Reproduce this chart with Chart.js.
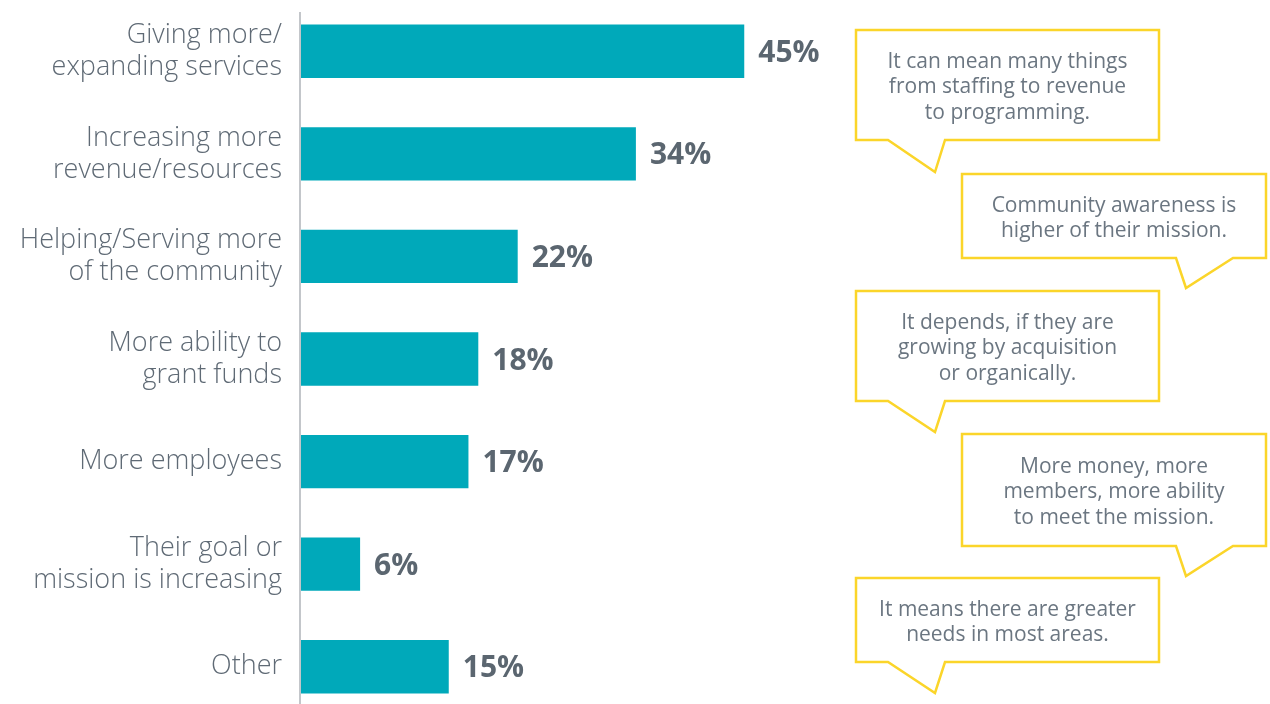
<!DOCTYPE html>
<html>
<head>
<meta charset="utf-8">
<script src="https://cdn.jsdelivr.net/npm/chart.js@4"></script>
<style>
  html, body { margin: 0; padding: 0; background: #fff; overflow: hidden; }
  #wrap { position: relative; width: 1270px; height: 704px; overflow: hidden; }
  #chartBox { position: absolute; left: 0; top: 0; width: 1270px; height: 718px; }
  #bubbles { position: absolute; left: 0; top: 0; width: 1270px; height: 704px; pointer-events: none; }
  .quote {
    position: absolute; display: flex; align-items: center; justify-content: center;
    text-align: center; font-family: "Open Sans", sans-serif; font-weight: 400;
    font-size: 21px; line-height: 25.5px; color: #6b7681; box-sizing: border-box;
  }
</style>
</head>
<body>
<div id="wrap">
  <div id="chartBox"><canvas id="growthChart" width="1270" height="718"></canvas></div>
  <svg id="bubbles" width="1270" height="704"></svg>
</div>
<script>
// categories and values
const categories = [
    ['Giving more/', 'expanding services'],
    ['Increasing more', 'revenue/resources'],
    ['Helping/Serving more', 'of the community'],
    ['More ability to', 'grant funds'],
    'More employees',
    ['Their goal or', 'mission is increasing'],
    'Other'
];
const shares = [45, 34, 22, 18, 17, 6, 15];

// quotes shown in the call-out boxes
const quotes = [
    ['It can mean many things', 'from staffing to revenue', 'to programming.'],
    ['Community awareness is', 'higher of their mission.'],
    ['It depends, if they are', 'growing by acquisition', 'or organically.'],
    ['More money, more', 'members, more ability', 'to meet the mission.'],
    ['It means there are greater', 'needs in most areas.']
];

const textGrey = '#5f6a75';

// bold % labels at the end of each bar + the vertical axis line
const valueLabels = {
    id: 'valueLabels',
    afterDatasetsDraw(chart) {
        const ctx = chart.ctx;
        const meta = chart.getDatasetMeta(0);
        ctx.save();
        ctx.font = 'bold 30px "Open Sans", sans-serif';
        ctx.fillStyle = '#5b6670';
        ctx.textAlign = 'left';
        ctx.textBaseline = 'middle';
        meta.data.forEach((bar, i) => {
            ctx.fillText(shares[i] + '%', bar.x + 14, bar.y + 2);
        });
        // axis line
        const a = chart.chartArea;
        ctx.strokeStyle = '#c3c6ca';
        ctx.lineWidth = 2;
        ctx.beginPath();
        ctx.moveTo(a.left - 1, 12);
        ctx.lineTo(a.left - 1, 704);
        ctx.stroke();
        ctx.restore();
    }
};

const ctx = document.getElementById('growthChart').getContext('2d');
new Chart(ctx, {
    type: 'bar',
    data: {
        labels: categories,
        datasets: [{
            data: shares,
            backgroundColor: '#00a9ba',
            barPercentage: 0.52,
            categoryPercentage: 1
        }]
    },
    options: {
        indexAxis: 'y',
        responsive: false,
        animation: false,
        layout: { padding: { top: 0, right: 378, bottom: 0, left: 0 } },
        plugins: { legend: { display: false }, tooltip: { enabled: false } },
        scales: {
            x: { display: false, min: 0, max: 60 },
            y: {
                afterFit(scale) {
                    scale.width = 301;
                    scale.paddingTop = 0;
                    scale.paddingBottom = 0;
                },
                grid: { display: false, drawTicks: false },
                border: { display: false },
                ticks: {
                    color: textGrey,
                    padding: 19,
                    font: { family: '"Open Sans", sans-serif', size: 27, weight: 300, lineHeight: 1.185 }
                }
            }
        }
    },
    plugins: [valueLabels]
});

// call-out boxes (rect: x, y, w, h ; tail points)
const boxes = [
    { x: 856, y: 30, w: 303, h: 110, tail: [[888, 140], [935, 172], [945, 140]] },
    { x: 962, y: 174, w: 304, h: 84, tail: [[1176, 258], [1186, 288], [1233, 258]] },
    { x: 856, y: 291, w: 303, h: 110, tail: [[888, 401], [935, 432], [945, 401]] },
    { x: 962, y: 434, w: 304, h: 112, tail: [[1176, 546], [1186, 576], [1233, 546]] },
    { x: 856, y: 578, w: 303, h: 84, tail: [[888, 662], [935, 693], [945, 662]] }
];

const svg = document.getElementById('bubbles');
const wrap = document.getElementById('wrap');
boxes.forEach((b, i) => {
    const t = b.tail;
    const pts = [
        [b.x, b.y], [b.x + b.w, b.y], [b.x + b.w, b.y + b.h],
        t[2], t[1], t[0], [b.x, b.y + b.h]
    ];
    const poly = document.createElementNS('http://www.w3.org/2000/svg', 'polygon');
    poly.setAttribute('points', pts.map(p => p.join(',')).join(' '));
    poly.setAttribute('fill', '#fff');
    poly.setAttribute('stroke', '#fbd52a');
    poly.setAttribute('stroke-width', '2.5');
    svg.appendChild(poly);

    const div = document.createElement('div');
    div.className = 'quote';
    div.style.left = b.x + 'px';
    div.style.top = (b.y + 1) + 'px';
    div.style.width = b.w + 'px';
    div.style.height = b.h + 'px';
    div.innerHTML = quotes[i].join('<br>');
    wrap.appendChild(div);
});
</script>
</body>
</html>
